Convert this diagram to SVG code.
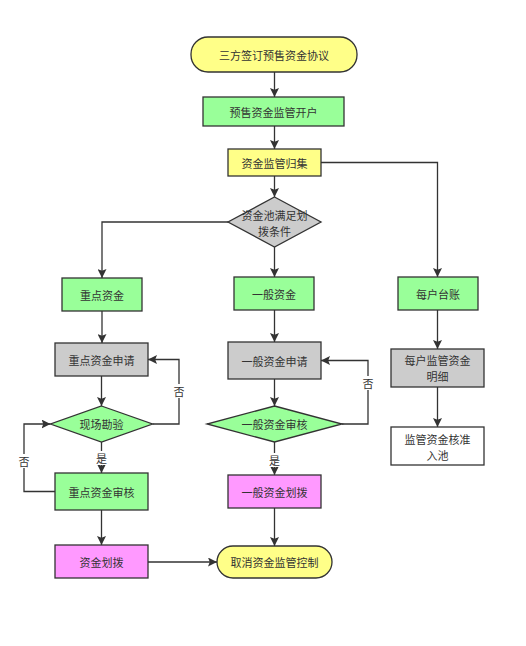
<svg xmlns="http://www.w3.org/2000/svg" width="526" height="646" viewBox="0 0 526 646">
<style>
.n{stroke:#333;stroke-width:1.3}
.y{fill:#ffff88}.g{fill:#99ff99}.s{fill:#cccccc}.p{fill:#ff99ff}.w{fill:#ffffff}
text{font-family:"Noto Sans CJK SC","Liberation Sans",sans-serif;font-size:11px;fill:#333;text-anchor:middle;dominant-baseline:central}
.c{fill:none;stroke:#333;stroke-width:1.3}
.lb{fill:#fff;stroke:none}
</style>
<defs>
<marker id="a" viewBox="0 0 10 10" refX="10" refY="5" markerWidth="9" markerHeight="9" markerUnits="userSpaceOnUse" orient="auto">
<path d="M0,0 L10,5 L0,10 L2,5 z" fill="#333"/>
</marker>
</defs>
<rect width="526" height="646" fill="#fff"/>
<g id="connectors">
<path class="c" marker-end="url(#a)" d="M274.5,72 V97"/>
<path class="c" marker-end="url(#a)" d="M274.5,126 V149"/>
<path class="c" marker-end="url(#a)" d="M274.5,176 V197"/>
<path class="c" marker-end="url(#a)" d="M321,162.5 H437.5 V277"/>
<path class="c" marker-end="url(#a)" d="M228,222 H102 V278"/>
<path class="c" marker-end="url(#a)" d="M274.5,247 V277"/>
<path class="c" marker-end="url(#a)" d="M102,311 V343"/>
<path class="c" marker-end="url(#a)" d="M274.5,310 V342"/>
<path class="c" marker-end="url(#a)" d="M437.5,310 V349"/>
<path class="c" marker-end="url(#a)" d="M437.5,387 V427"/>
<path class="c" marker-end="url(#a)" d="M101.5,376 V406"/>
<path class="c" marker-end="url(#a)" d="M152.5,424 H179 V359.5 H148"/>
<path class="c" marker-end="url(#a)" d="M55,491.5 H24 V424 H50.5"/>
<path class="c" marker-end="url(#a)" d="M101.5,442 V473"/>
<path class="c" marker-end="url(#a)" d="M101.5,510 V545"/>
<path class="c" marker-end="url(#a)" d="M148,562 H217"/>
<path class="c" marker-end="url(#a)" d="M274.5,379 V406"/>
<path class="c" marker-end="url(#a)" d="M342,424 H368 V360.5 H321"/>
<path class="c" marker-end="url(#a)" d="M274.5,442 V475"/>
<path class="c" marker-end="url(#a)" d="M274.5,508 V546"/>
<rect class="lb" x="173" y="384" width="12" height="14"/><text x="179" y="391">否</text>
<rect class="lb" x="18" y="454" width="12" height="14"/><text x="24" y="461">否</text>
<rect class="lb" x="95.5" y="451" width="12" height="14"/><text x="101.5" y="458">是</text>
<rect class="lb" x="362" y="376" width="12" height="14"/><text x="368" y="383">否</text>
<rect class="lb" x="268.5" y="453" width="12" height="14"/><text x="274.5" y="460">是</text>
</g>
<g id="n1"><rect class="n y" x="191" y="37" width="166" height="35" rx="17"/><text x="274" y="54.5">三方签订预售资金协议</text></g>
<g id="n2"><rect class="n g" x="203" y="97" width="141" height="29"/><text x="273.5" y="111.5">预售资金监管开户</text></g>
<g id="n3"><rect class="n y" x="228" y="149" width="93" height="27"/><text x="274.5" y="162.5">资金监管归集</text></g>
<g id="n4"><polygon class="n s" points="274.5,197 321,222 274.5,247 228,222"/><text x="274.5" y="214.5">资金池满足划<tspan x="274.5" dy="16">拨条件</tspan></text></g>
<g id="n5"><rect class="n g" x="62" y="278" width="80" height="33"/><text x="102" y="294.5">重点资金</text></g>
<g id="n6"><rect class="n g" x="234" y="277" width="80" height="33"/><text x="274" y="293.5">一般资金</text></g>
<g id="n7"><rect class="n g" x="398" y="277" width="80" height="33"/><text x="438" y="293.5">每户台账</text></g>
<g id="n8"><rect class="n s" x="55" y="343" width="93" height="33"/><text x="101.5" y="359.5">重点资金申请</text></g>
<g id="n9"><rect class="n s" x="228" y="342" width="93" height="37"/><text x="274.5" y="360.5">一般资金申请</text></g>
<g id="n10"><rect class="n s" x="391" y="349" width="93" height="38"/><text x="437.5" y="360">每户监管资金<tspan x="437.5" dy="16">明细</tspan></text></g>
<g id="n11"><polygon class="n g" points="101.5,406 152.5,424 101.5,442 50.5,424"/><text x="101.5" y="424">现场勘验</text></g>
<g id="n12"><polygon class="n g" points="274.5,406 342,424 274.5,442 207,424"/><text x="274.5" y="424">一般资金审核</text></g>
<g id="n13"><rect class="n w" x="391" y="427" width="93" height="38"/><text x="437.5" y="438.5">监管资金核准<tspan x="437.5" dy="16">入池</tspan></text></g>
<g id="n14"><rect class="n g" x="55" y="473" width="93" height="37"/><text x="101.5" y="491.5">重点资金审核</text></g>
<g id="n15"><rect class="n p" x="228" y="475" width="93" height="33"/><text x="274.5" y="491.5">一般资金划拨</text></g>
<g id="n16"><rect class="n p" x="55" y="545" width="93" height="33"/><text x="101.5" y="561.5">资金划拨</text></g>
<g id="n17"><rect class="n y" x="217" y="546" width="115" height="32" rx="16"/><text x="274.5" y="562">取消资金监管控制</text></g>
</svg>
